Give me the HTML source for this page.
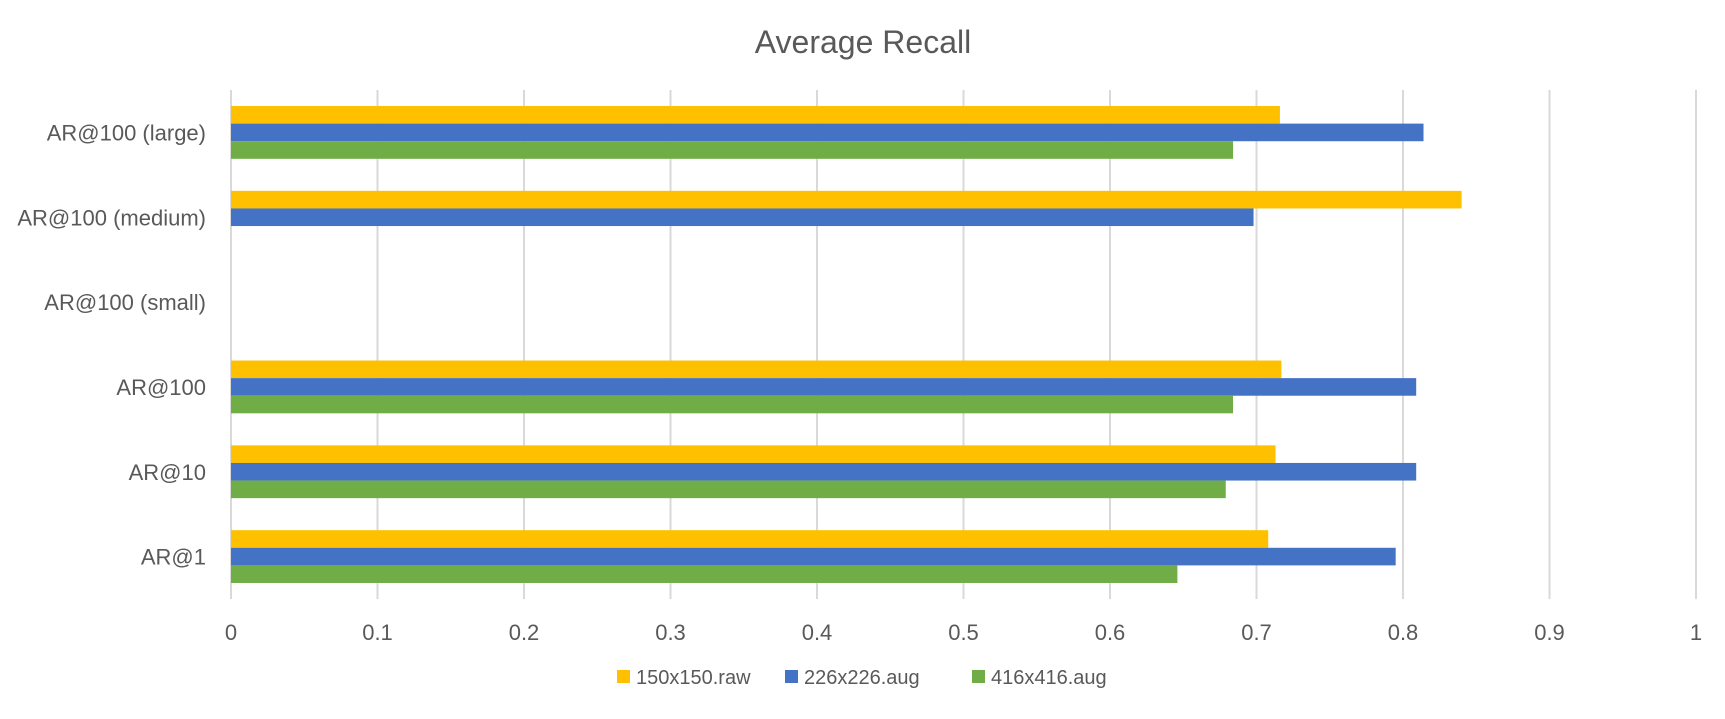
<!DOCTYPE html>
<html><head><meta charset="utf-8"><style>
body{margin:0;background:#fff;font-family:"Liberation Sans",sans-serif}
svg text{font-family:"Liberation Sans",sans-serif;fill:#595959}
</style></head><body>
<svg id="chart" width="1725" height="714" xmlns="http://www.w3.org/2000/svg">
<text x="863" y="53" font-size="32" text-anchor="middle">Average Recall</text>
<g id="grid"></g>
<g id="bars"></g>
<g id="ylabels"></g>
<g id="xlabels"></g>
<g id="legend"></g>
</svg>
<script>
const categories=["AR@100 (large)","AR@100 (medium)","AR@100 (small)","AR@100","AR@10","AR@1"];
const seriesNames=["150x150.raw","226x226.aug","416x416.aug"];
const s150=[0.716,0.84,0,0.717,0.713,0.708];
const s226=[0.814,0.698,0,0.809,0.809,0.795];
const s416=[0.684,0,0,0.684,0.679,0.646];
const xTicks=[0,0.1,0.2,0.3,0.4,0.5,0.6,0.7,0.8,0.9,1];
const colors=["#FFC000","#4472C4","#70AD47"];
const X0=231,XS=1465,TOP=90,BOT=599;
const band=(BOT-TOP)/categories.length,bh=17.6;
const x=v=>X0+v*XS;
const NS="http://www.w3.org/2000/svg";
function mk(t,a,p){const e=document.createElementNS(NS,t);for(const k in a)e.setAttribute(k,a[k]);p.appendChild(e);return e;}
const grid=document.getElementById('grid'),bars=document.getElementById('bars'),yl=document.getElementById('ylabels'),xl=document.getElementById('xlabels'),lg=document.getElementById('legend');
xTicks.forEach(t=>{
 const l=mk('line',{x1:x(t),x2:x(t),y1:TOP,y2:BOT,stroke:'#d9d9d9','stroke-width':2},grid);
 
 
 const tx=mk('text',{x:x(t),y:640,'font-size':22,'text-anchor':'middle'},xl);tx.textContent=String(t);
 
 
});
const series=[s150,s226,s416];
categories.forEach((c,i)=>{
 const cy=TOP+band*i+band/2;
 const tx=mk('text',{x:206,y:cy+8,'font-size':22,'text-anchor':'end'},yl);tx.textContent=c;
 
 
 series.forEach((s,j)=>{
  if(s[i]<=0)return;
  const r=mk('rect',{x:x(0),y:cy-1.5*bh+j*bh,width:x(s[i])-x(0),height:bh,fill:colors[j]},bars);
  
  
 });
});
const lx=[617,785,972];
seriesNames.forEach((n,j)=>{
 const r=mk('rect',{x:lx[j],y:670,width:13,height:13,fill:colors[j]},lg);
 
 
 const t=mk('text',{x:lx[j]+19,y:684,'font-size':20},lg);t.textContent=n;
 
 
});
</script>
</body></html>
